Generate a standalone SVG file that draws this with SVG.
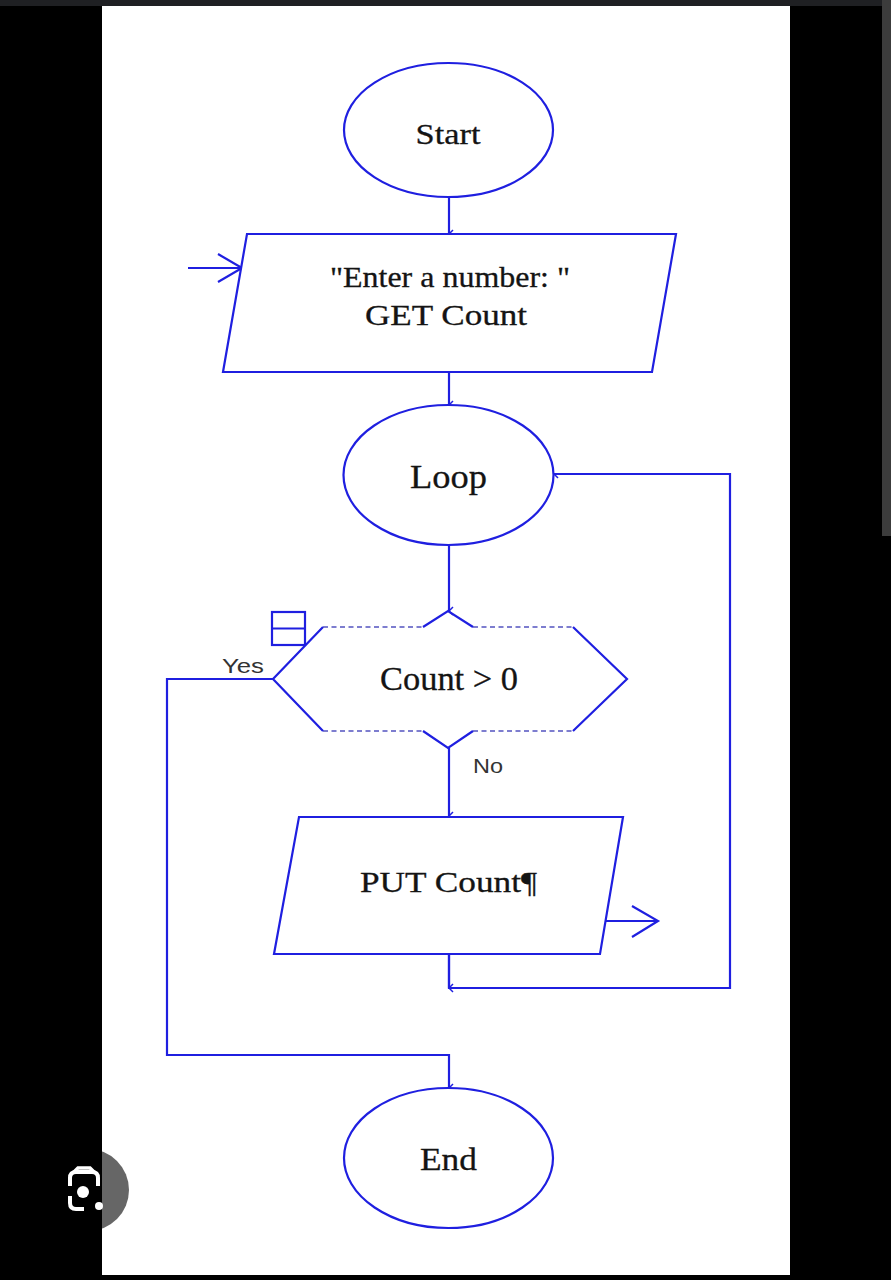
<svg xmlns="http://www.w3.org/2000/svg" width="891" height="1280" viewBox="0 0 891 1280">
  <style>
    .shape { fill: #ffffff; stroke: #1f1fe0; stroke-width: 2.2; }
    .line { fill: none; stroke: #1f1fe0; stroke-width: 2.2; }
    .dash { fill: none; stroke: #7d7dcf; stroke-width: 1.8; stroke-dasharray: 5 3.5; }
    .lbl { font-family: "Liberation Serif", "Times New Roman", serif; fill: #141414; text-anchor: middle; stroke: #141414; stroke-width: 0.3; }
    .small { font-family: "Liberation Sans", Arial, sans-serif; fill: #333333; font-size: 21px; }
  </style>
  <defs>
    <marker id="tick" viewBox="0 0 10 10" refX="5" refY="9" markerWidth="10" markerHeight="10" markerUnits="userSpaceOnUse" orient="auto-start-reverse">
      <path d="M1,5 L5,9 L9,5" fill="none" stroke="#1f1fe0" stroke-width="1.5"/>
    </marker>
  </defs>

  <!-- screenshot frame -->
  <rect x="0" y="0" width="891" height="1280" fill="#000000"/>
  <rect x="0" y="0" width="891" height="6" fill="#1f2023"/>
  <rect x="102" y="6" width="688" height="1269" fill="#ffffff"/>
  <rect x="882" y="0" width="9" height="536" fill="#3c3c3c"/>

  <g id="connectors">
    <path class="line" d="M449,197 L449,234" marker-end="url(#tick)"/>
    <path class="line" d="M449,372 L449,405" marker-end="url(#tick)"/>
    <path class="line" d="M449,545 L449,611" marker-end="url(#tick)"/>
    <path class="line" d="M449,748 L449,816" marker-end="url(#tick)"/>
    <path class="line" d="M449,954 L449,988 L730,988 L730,474 L554,474" marker-end="url(#tick)"/>
    <path class="line" d="M449,954 L449,988" marker-end="url(#tick)"/>
    <path class="line" d="M273,679 L167,679 L167,1055 L449,1055 L449,1088" marker-end="url(#tick)"/>
    <!-- input / output arrows -->
    <path class="line" d="M188,268 L242,268 M218,254 L242,268 L218,282"/>
    <path class="line" d="M605,921 L658,921 M632,906 L658,921 L632,937"/>
    <text class="small" x="222" y="673" textLength="42" lengthAdjust="spacingAndGlyphs">Yes</text>
    <text class="small" x="473" y="773" textLength="30" lengthAdjust="spacingAndGlyphs">No</text>
  </g>

  <g id="start">
    <ellipse class="shape" cx="448.5" cy="130" rx="104.5" ry="67"/>
    <text class="lbl" x="448" y="144" font-size="30" textLength="65" lengthAdjust="spacingAndGlyphs">Start</text>
  </g>

  <g id="input">
    <polygon class="shape" points="247,234 676,234 652,372 223,372"/>
    <text class="lbl" x="450" y="287" font-size="30" textLength="240" lengthAdjust="spacingAndGlyphs">"Enter a number: "</text>
    <text class="lbl" x="446" y="325" font-size="30" textLength="162" lengthAdjust="spacingAndGlyphs">GET Count</text>
  </g>

  <g id="loop">
    <ellipse class="shape" cx="448.5" cy="475" rx="105" ry="70"/>
    <text class="lbl" x="448.5" y="488" font-size="34" textLength="77" lengthAdjust="spacingAndGlyphs">Loop</text>
  </g>

  <g id="decision">
    <polygon points="323,627 573,627 627,679 573,731 323,731 273,679" fill="#ffffff"/>
    <path class="dash" d="M323,627 L423,627 M473,627 L573,627 M323,731 L423,731 M473,731 L573,731"/>
    <path class="line" d="M323,627 L273,679 L323,731 M573,627 L627,679 L573,731 M423,627 L448,611 L473,627 M423,731 L448,748 L473,731"/>
    <rect class="line" x="272" y="612" width="33" height="33"/>
    <line class="line" x1="272" y1="628.5" x2="305" y2="628.5"/>
    <text class="lbl" x="449" y="690" font-size="33" textLength="138" lengthAdjust="spacingAndGlyphs">Count &gt; 0</text>
  </g>

  <g id="output">
    <polygon class="shape" points="299,817 623,817 600,954 274,954"/>
    <text class="lbl" x="448.5" y="892" font-size="30" textLength="177" lengthAdjust="spacingAndGlyphs">PUT Count¶</text>
  </g>

  <g id="end">
    <ellipse class="shape" cx="448.5" cy="1158" rx="104.5" ry="70"/>
    <text class="lbl" x="448.5" y="1170" font-size="32" textLength="57" lengthAdjust="spacingAndGlyphs">End</text>
  </g>

  <!-- lens overlay icon -->
  <g id="lens-icon">
    <clipPath id="panelClip"><rect x="102" y="1100" width="100" height="180"/></clipPath>
    <circle cx="88" cy="1190" r="41" fill="#666666" clip-path="url(#panelClip)"/>
    <path d="M74,1172 L78,1168 L90,1168 L94,1172" fill="none" stroke="#ffffff" stroke-width="3.5"/>
    <path d="M70,1186 L70,1178 Q70,1172 76,1172 L92,1172 Q98,1172 98,1178 L98,1186 M70,1196 L70,1203 Q70,1209 76,1209 L84,1209" fill="none" stroke="#ffffff" stroke-width="4"/>
    <circle cx="83" cy="1192" r="6" fill="#ffffff"/>
    <circle cx="99" cy="1206" r="4" fill="#ffffff"/>
  </g>
</svg>
